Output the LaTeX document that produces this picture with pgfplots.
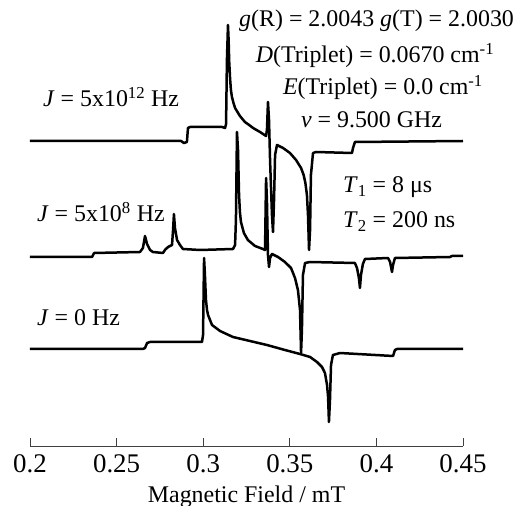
\documentclass[border=0pt]{standalone}
\usepackage{fontspec}
\setmainfont{Liberation Serif}
\usepackage{pgfplots}
\pgfplotsset{compat=1.18}
\newcommand\lab{\fontsize{24}{28}\selectfont}

\begin{document}
\begin{tikzpicture}
\path[use as bounding box] (-30bp,-60bp) rectangle (494bp,446bp);
\begin{axis}[
  scale only axis,
  width=433bp, height=446bp,
  xmin=0.2, xmax=0.45, ymin=0, ymax=446,
  axis x line=bottom, axis y line=none,
  axis line style={-, black!75, line width=0.9bp},
  xtick={0.2,0.25,0.3,0.35,0.4,0.45},
  xticklabels={0.2,0.25,0.3,0.35,0.4,0.45},
  tick align=inside, major tick length=8bp,
  tick style={black!75, line width=0.9bp},
  xticklabel style={font=\fontsize{27}{30}\selectfont, anchor=base, yshift=-26bp},
  xlabel={Magnetic Field / mT},
  xlabel style={font=\lab, at={(axis description cs:0.5,0)}, anchor=base, yshift=-56bp},
  clip=false,
  every axis plot post/.append style={black, mark=none, line width=2.5bp, line join=round},
]
% J = 5x10^12 Hz
\addplot coordinates {
(0.2,305) (0.2872,305) (0.2889,303) (0.2906,304) (0.2912,318) (0.2924,319) (0.3109,319)
(0.3126,318) (0.3132,322) (0.3137,386) (0.3143,421) (0.3147,405) (0.3150,385) (0.3155,368)
(0.3160,356) (0.3166,349) (0.3175,343) (0.3184,338) (0.3198,334) (0.3212,330) (0.3241,324)
(0.3265,321) (0.3288,318) (0.3328,314) (0.3363,310) (0.3368,316)
(0.3374,344) (0.3380,326) (0.3386,286) (0.3397,231) (0.3403,214) (0.3409,246) (0.3415,291)
(0.3426,301) (0.3461,298) (0.3501,293) (0.3536,286) (0.3565,278) (0.3580,271) (0.3590,263)
(0.3599,251) (0.3605,231) (0.3611,196) (0.3617,216) (0.3622,271) (0.3634,293) (0.3651,294)
(0.3859,293) (0.3865,298) (0.3876,304) (0.45,305)
};
% J = 5x10^8 Hz
\addplot coordinates {
(0.2,189) (0.2358,189) (0.2370,193) (0.2635,194) (0.2652,198) (0.2664,210) (0.2676,202)
(0.2693,196) (0.2710,194) (0.2768,193) (0.2779,196) (0.2797,199) (0.2820,201) (0.2826,216)
(0.2831,232) (0.2837,218) (0.2849,206) (0.2866,201) (0.2883,197) (0.2982,196) (0.3172,197)
(0.3184,201) (0.3189,226) (0.3195,314) (0.3201,296) (0.3207,251) (0.3212,234) (0.3218,224)
(0.3235,213) (0.3258,206) (0.3299,200) (0.3345,197) (0.3357,196) (0.3363,268) (0.3368,246)
(0.3374,191) (0.3380,179) (0.3386,188) (0.3397,192) (0.3432,189) (0.3472,184) (0.3507,178)
(0.3530,168) (0.3547,156) (0.3559,136) (0.3565,93) (0.3570,116) (0.3576,171) (0.3588,183)
(0.3617,184) (0.3876,183) (0.3888,178) (0.3899,168) (0.3905,158) (0.3911,171) (0.3922,182)
(0.3934,187) (0.4067,188) (0.4079,184) (0.4090,174) (0.4096,181) (0.4107,188) (0.4425,189)
(0.4436,190) (0.45,190)
};
% J = 0 Hz
\addplot coordinates {
(0.2,97) (0.2652,97) (0.2664,98) (0.2676,103) (0.2693,104) (0.2993,104) (0.2999,111)
(0.3005,188) (0.3010,171) (0.3016,146) (0.3022,136) (0.3028,131) (0.3051,121) (0.3097,115)
(0.3172,109) (0.3270,105) (0.3368,101) (0.3472,96) (0.3559,92) (0.3617,89) (0.3657,84)
(0.3686,79) (0.3703,73) (0.3715,61) (0.3721,49) (0.3726,24) (0.3732,46) (0.3738,81)
(0.3749,91) (0.3790,93) (0.4096,90) (0.4107,96) (0.4119,97) (0.45,97)
};
\node[font=\lab, anchor=base west, inner sep=0pt] at (axis cs:0.2075,339) {\textit{J} = 5x10\textsuperscript{12} Hz};
\node[font=\lab, anchor=base west, inner sep=0pt] at (axis cs:0.2040,224) {\textit{J} = 5x10\textsuperscript{8} Hz};
\node[font=\lab, anchor=base west, inner sep=0pt] at (axis cs:0.2040,120) {\textit{J} = 0 Hz};
\node[font=\lab, anchor=base, inner sep=0pt] at (axis cs:0.4001,419) {\textit{g}(R) = 2.0043 \textit{g}(T) = 2.0030};
\node[font=\lab, anchor=base, inner sep=0pt] at (axis cs:0.3992,383) {\textit{D}(Triplet) = 0.0670 cm\textsuperscript{-1}};
\node[font=\lab, anchor=base, inner sep=0pt] at (axis cs:0.4038,351) {\textit{E}(Triplet) = 0.0 cm\textsuperscript{-1}};
\node[font=\lab, anchor=base, inner sep=0pt] at (axis cs:0.3972,318) {\textit{ν} = 9.500 GHz};
\node[font=\lab, anchor=base west, inner sep=0pt] at (axis cs:0.3807,253) {\textit{T}\textsubscript{1} = 8 μs};
\node[font=\lab, anchor=base west, inner sep=0pt] at (axis cs:0.3807,218) {\textit{T}\textsubscript{2} = 200 ns};
\end{axis}
\end{tikzpicture}
\end{document}
